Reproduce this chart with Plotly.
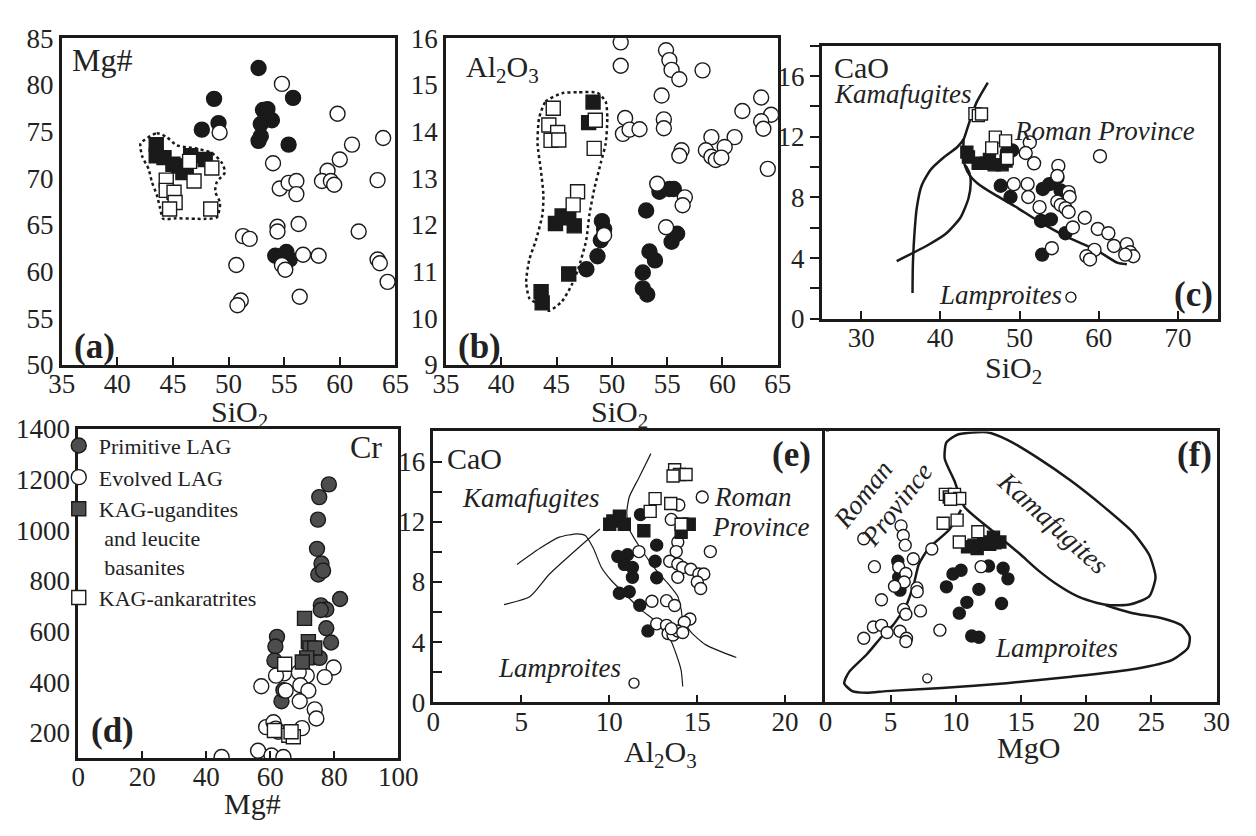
import plotly.graph_objects as go

W, H = 1256, 836
FONT = "Liberation Serif"
INK = "#1a1a1a"
TXT = "#222222"
GREY = "#4d4d4d"

# ---------------- Panel (a): SiO2 vs Mg# ----------------
A_prim_x = [52.7, 48.7, 55.8, 47.6, 49.1, 53.1, 53.5, 53.9, 52.9, 52.9, 52.7, 55.4, 54.2, 55.2, 55.5, 54.7]
A_prim_y = [81.8, 78.5, 78.6, 75.2, 75.9, 77.3, 77.4, 76.2, 75.8, 74.5, 74.0, 73.6, 61.7, 62.1, 61.3, 61.5]
A_evol_x = [54.8, 59.8, 49.2, 63.9, 61.1, 60.0, 54.0, 58.9, 58.4, 59.2, 59.5, 63.4, 54.6, 55.4, 56.1, 56.1,
            56.3, 54.4, 54.4, 51.3, 51.9, 61.7, 50.7, 56.7, 58.1, 54.8, 55.1, 63.4, 63.6, 64.3, 56.4, 51.1, 50.8]
A_evol_y = [80.1, 76.9, 74.9, 74.3, 73.6, 72.0, 71.6, 70.8, 69.7, 69.7, 69.3, 69.8, 68.9, 69.5, 69.7, 68.3,
            65.1, 64.8, 64.3, 63.8, 63.5, 64.3, 60.7, 61.8, 61.7, 60.7, 60.2, 61.3, 60.9, 58.9, 57.3, 56.9, 56.4]
A_ug_x = [43.5, 43.5, 45.0, 45.9, 46.6, 47.9, 45.5, 44.2, 46.2]
A_ug_y = [73.6, 72.4, 71.5, 70.6, 72.4, 72.0, 71.3, 72.2, 71.0]
A_ank_x = [46.5, 48.5, 44.4, 44.4, 45.1, 45.2, 44.7, 46.9, 48.4]
A_ank_y = [71.8, 71.1, 69.8, 68.7, 68.5, 67.4, 66.7, 69.7, 66.7]
A_field_x = [42.09, 43.55, 44.43, 45.30, 46.18, 47.05, 48.51, 49.39, 49.68, 48.95, 48.80, 49.24, 48.95,
             47.93, 47.05, 45.30, 44.13, 43.84, 43.55, 43.11, 42.82, 42.24, 42.09]
A_field_y = [73.72, 74.82, 74.41, 73.55, 73.31, 73.21, 72.69, 71.66, 70.63, 69.60, 68.57, 67.36, 65.82,
             65.65, 65.65, 65.71, 65.65, 66.85, 68.22, 69.60, 70.97, 72.35, 73.72]

# ---------------- Panel (b): SiO2 vs Al2O3 ----------------
B_prim_x = [49.1, 49.3, 49.0, 48.7, 47.7, 53.1, 54.3, 55.2, 55.6, 55.9, 55.4, 53.4, 53.9, 52.8, 52.8, 53.2]
B_prim_y = [12.08, 11.91, 11.67, 11.33, 11.05, 12.31, 12.71, 12.77, 12.77, 11.81, 11.64, 11.43, 11.24, 10.98, 10.64, 10.51]
B_evol_x = [50.8, 50.8, 54.9, 55.2, 55.4, 56.1, 58.2, 54.5, 54.7, 54.7, 51.2, 51.0, 51.6, 52.5, 63.5, 61.8, 64.4,
            63.5, 63.7, 61.1, 59.0, 60.2, 58.5, 59.0, 59.4, 59.9, 56.3, 56.1, 64.1, 54.1, 56.6, 56.4, 54.9, 49.3]
B_evol_y = [15.91, 15.41, 15.74, 15.53, 15.32, 15.12, 15.31, 14.77, 14.26, 14.07, 14.29, 13.95, 14.04, 14.05, 14.73,
            14.44, 14.36, 14.22, 14.06, 13.88, 13.88, 13.67, 13.60, 13.46, 13.39, 13.44, 13.60, 13.48, 13.20, 12.88,
            12.59, 12.42, 11.95, 11.78]
B_ug_x = [48.3, 47.9, 44.9, 45.5, 46.6, 46.1, 43.6, 43.7, 46.1]
B_ug_y = [14.63, 14.19, 12.03, 12.19, 11.98, 10.95, 10.57, 10.33, 12.15]
B_ank_x = [44.7, 44.3, 45.1, 44.5, 45.2, 48.5, 48.4, 46.9, 46.5]
B_ank_y = [14.50, 14.14, 13.98, 13.81, 13.82, 14.24, 13.64, 12.71, 12.43]
B_field_x = [43.42, 44.01, 45.48, 46.95, 48.71, 49.44, 49.59, 49.44, 49.0, 48.41, 47.97, 47.68, 46.95, 46.36,
             45.48, 44.30, 43.42, 42.54, 42.25, 42.54, 43.13, 43.72, 43.81, 43.57, 43.28, 43.42]
B_field_y = [14.29, 14.64, 14.82, 14.84, 14.83, 14.64, 14.29, 13.74, 13.33, 12.77, 12.22, 11.67, 11.05, 10.71,
             10.36, 10.16, 10.29, 10.43, 10.78, 11.26, 11.67, 12.22, 12.64, 13.19, 13.74, 14.29]

# ---------------- Panel (c): SiO2 vs CaO ----------------
C_prim_x = [49.06, 48.4, 47.63, 48.86, 52.94, 53.76, 54.78, 55.18, 52.73, 53.96, 55.8, 52.86]
C_prim_y = [11.10, 11.0, 8.77, 8.03, 8.56, 8.88, 9.30, 8.46, 6.45, 6.55, 5.64, 4.23]
C_evol_x = [51.3, 50.78, 51.84, 49.27, 51.02, 51.1, 52.53, 54.9, 54.78, 56.2, 56.33, 54.78, 55.2, 55.8, 56.2,
            56.73, 58.24, 59.88, 61.22, 61.92, 63.55, 63.96, 64.37, 63.35, 59.47, 58.45, 58.9, 54.08, 60.16]
C_evol_y = [11.63, 10.93, 10.25, 8.88, 8.88, 8.03, 7.36, 10.08, 9.41, 8.35, 8.03, 7.72, 7.5, 7.29, 7.04,
            6.02, 6.66, 5.92, 5.64, 4.80, 4.92, 4.38, 4.12, 4.23, 4.54, 4.12, 3.91, 4.65, 10.72]
C_small_x = [56.49]
C_small_y = [1.42]
C_ug_x = [43.55, 44.78, 45.8, 46.8, 47.8, 43.35, 46.2, 48.3]
C_ug_y = [10.67, 10.25, 10.25, 10.15, 10.15, 10.99, 10.5, 10.4]
C_ank_x = [44.37, 44.8, 45.2, 46.94, 48.24, 46.49, 48.45]
C_ank_y = [13.53, 13.4, 13.5, 11.98, 11.73, 11.27, 10.57]
C_lineA_x = [36.49, 36.53, 36.73, 37.02, 37.63, 38.78, 40.49, 42.12, 42.94, 43.55, 44.57, 46.0]
C_lineA_y = [1.69, 3.49, 5.60, 7.29, 8.77, 9.83, 10.67, 11.31, 11.84, 12.79, 14.27, 15.58]
C_lineB_x = [34.49, 38.45, 40.69, 42.53, 43.55, 43.84, 43.67, 43.2]
C_lineB_y = [3.80, 4.86, 5.60, 6.66, 7.93, 8.98, 9.62, 10.1]
C_lineC_x = [42.94, 42.9, 43.1, 43.8, 45.0, 46.5, 49.47, 52.33, 56.0, 59.67, 62.33, 63.55]
C_lineC_y = [11.84, 10.9, 10.1, 9.4, 8.8, 8.3, 7.40, 6.45, 5.39, 4.54, 3.70, 3.59]

# ---------------- Panel (d): Mg# vs Cr ----------------
D_prim_x = [78.3, 75.3, 74.9, 74.6, 76.0, 75.0, 76.5, 81.8, 75.8, 77.5, 75.8, 77.5, 79.0, 62.1, 61.6, 61.3, 63.5, 64.1, 74.4, 75.4]
D_prim_y = [1180, 1130, 1041, 926, 868, 825, 840, 728, 703, 687, 685, 613, 557, 579, 541, 486, 325, 369, 499, 496]
D_evol_x = [79.8, 77.0, 71.4, 68.9, 64.3, 61.8, 57.2, 64.8, 69.4, 71.9, 69.2, 73.9, 74.4, 58.7, 61.0, 61.7, 62.5,
            69.9, 56.2, 60.4, 64.1, 44.8]
D_evol_y = [458, 420, 426, 439, 435, 426, 384, 367, 388, 367, 325, 293, 257, 223, 242, 217, 205, 219, 130, 111, 105, 105]
D_ug_x = [70.7, 71.9, 72.4, 73.9, 71.4, 70.0]
D_ug_y = [652, 560, 535, 535, 496, 480]
D_ank_x = [61.3, 65.8, 67.2, 66.5, 64.5]
D_ank_y = [210, 191, 185, 205, 471]

# ---------------- Panel (e): Al2O3 vs CaO ----------------
E_prim_x = [11.78, 12.7, 10.49, 11.04, 10.86, 11.32, 11.32, 12.61, 12.7, 10.58, 11.14, 11.74, 12.2]
E_prim_y = [12.48, 10.45, 9.70, 9.81, 9.17, 8.96, 8.32, 9.38, 8.28, 7.25, 7.36, 6.46, 4.75]
E_evol_x = [13.96, 15.29, 13.53, 13.9, 13.81, 11.69, 15.75, 13.44, 13.9, 14.18, 14.64, 13.9, 15.1, 15.38, 15.01,
            15.2, 12.43, 13.26, 13.72, 14.59, 14.27, 12.7, 13.26, 13.35, 13.63, 13.9, 14.18, 13.53]
E_evol_y = [13.12, 13.65, 12.16, 10.66, 10.02, 10.02, 10.02, 9.38, 9.2, 8.96, 8.85, 8.32, 8.53, 8.53, 8.0,
            7.57, 6.72, 6.76, 6.44, 5.54, 5.33, 5.22, 5.12, 4.58, 4.48, 4.74, 4.65, 4.9]
E_small_x = [11.41]
E_small_y = [1.28]
E_ug_x = [10.21, 10.58, 10.86, 10.03, 11.97, 14.18, 14.55, 14.09]
E_ug_y = [12.05, 12.37, 11.84, 11.84, 11.41, 11.84, 11.84, 11.3]
E_ank_x = [13.72, 14.0, 14.37, 13.63, 12.61, 12.33, 13.5, 14.09]
E_ank_y = [15.46, 15.14, 15.14, 15.04, 13.54, 12.69, 13.22, 11.84]
E_line1_x = [12.37, 11.69, 11.14, 11.0, 11.14, 11.78, 12.7, 13.35, 13.9, 14.09, 14.18, 14.64, 15.47, 17.23]
E_line1_y = [16.53, 14.93, 13.65, 12.58, 11.52, 10.24, 8.74, 7.89, 7.04, 6.18, 5.54, 4.69, 3.84, 2.98]
E_line2_x = [4.76, 6.06, 7.16, 8.18, 8.64, 9.1, 9.56, 10.12, 10.86, 11.78, 12.7, 13.44, 13.81, 14.09, 14.18]
E_line2_y = [9.17, 10.24, 10.98, 11.2, 11.09, 10.24, 8.96, 8.1, 7.25, 6.18, 5.33, 4.26, 3.2, 2.13, 1.06]
E_line3_x = [4.02, 5.5, 6.61, 9.47]
E_line3_y = [6.50, 7.04, 8.53, 11.52]

# ---------------- Panel (f): MgO vs CaO ----------------
F_prim_x = [5.55, 5.62, 5.72, 9.78, 10.4, 9.28, 11.77, 10.85, 10.27, 12.51, 13.63, 14.0, 13.51, 11.22, 11.77]
F_prim_y = [9.38, 8.32, 7.46, 8.53, 8.78, 7.68, 7.51, 6.65, 5.93, 9.06, 8.91, 8.21, 6.57, 4.41, 4.33]
F_evol_x = [5.8, 5.97, 6.12, 2.94, 8.16, 6.74, 3.76, 5.62, 6.17, 6.04, 5.3, 7.02, 7.04, 4.3, 6.0, 7.29, 6.17,
            3.68, 4.3, 2.94, 4.73, 5.72, 6.22, 6.17, 8.78, 11.94]
F_evol_y = [11.73, 11.09, 10.45, 10.87, 10.19, 9.55, 9.02, 8.99, 8.57, 8.0, 7.72, 7.61, 7.36, 6.82, 6.18, 6.08, 5.86,
            5.01, 5.12, 4.26, 4.65, 4.73, 4.26, 4.05, 4.80, 9.02]
F_small_x = [7.81]
F_small_y = [1.6]
F_ug_x = [10.9, 11.64, 12.14, 12.89, 13.38, 12.6, 11.4, 13.0]
F_ug_y = [10.34, 10.23, 10.66, 10.98, 10.66, 10.5, 10.45, 10.6]
F_ank_x = [9.2, 9.5, 9.9, 10.3, 9.6, 9.03, 10.1, 10.27, 11.69]
F_ank_y = [13.82, 13.65, 13.82, 13.55, 13.5, 11.9, 12.11, 10.66, 11.34]
F_kama_x = [9.28, 10.15, 12.39, 13.88, 16.37, 18.86, 21.34, 23.58, 24.83, 25.32, 24.83, 23.33, 21.84, 20.85,
            19.35, 17.86, 16.37, 14.88, 12.89, 10.65, 9.9, 9.15, 9.28]
F_kama_y = [17.27, 17.80, 17.95, 17.48, 16.20, 14.71, 13.01, 11.30, 9.81, 8.32, 7.04, 6.50, 6.46, 6.61,
            7.04, 7.78, 8.74, 9.89, 11.34, 13.01, 14.71, 16.2, 17.27]
F_lamp_x = [10.4, 9.53, 7.91, 7.16, 6.79, 6.17, 5.17, 4.43, 3.18, 1.82, 1.44, 2.06, 3.18, 4.68, 8.91, 13.88,
            18.86, 23.83, 26.57, 27.81, 27.94, 27.31, 25.82, 23.58, 22.09, 21.5]
F_lamp_y = [12.79, 11.51, 10.23, 9.17, 7.89, 6.40, 5.12, 4.48, 3.20, 2.03, 1.28, 0.75, 0.64, 0.75, 0.96, 1.28,
            1.71, 2.24, 2.81, 3.62, 4.37, 5.12, 5.59, 5.93, 6.29, 6.45]

# ---------------- figure ----------------
fig = go.Figure()


def markers(xs, ys, ax, kind, size, grey=False, name=None, show=False):
    fill = {"prim": INK, "ug": INK, "evol": "white", "ank": "white"}[kind]
    if grey and kind in ("prim", "ug"):
        fill = GREY
    sym = "circle" if kind in ("prim", "evol") else "square"
    fig.add_trace(go.Scatter(
        x=xs, y=ys, mode="markers", xaxis="x" + ax, yaxis="y" + ax,
        marker=dict(symbol=sym, size=size, color=fill, line=dict(color=INK, width=1.4)),
        name=name, showlegend=show, hoverinfo="skip"))


def curve(xs, ys, ax, width=2.5, dash="solid"):
    fig.add_trace(go.Scatter(
        x=xs, y=ys, mode="lines", xaxis="x" + ax, yaxis="y" + ax,
        line=dict(color=INK, width=width, dash=dash, shape="spline", smoothing=0.6),
        showlegend=False, hoverinfo="skip"))


# (d) first so the legend follows its order
markers(D_prim_x, D_prim_y, "4", "prim", 15, grey=True, name="Primitive LAG", show=True)
markers(D_evol_x, D_evol_y, "4", "evol", 15, name="Evolved LAG", show=True)
markers(D_ug_x, D_ug_y, "4", "ug", 14, grey=True,
        name="KAG-ugandites<br>\u00a0and leucite<br>\u00a0basanites", show=True)
markers(D_ank_x, D_ank_y, "4", "ank", 14, name="KAG-ankaratrites", show=True)

# (a)
curve(A_field_x, A_field_y, "", width=2.5, dash="dot")
markers(A_prim_x, A_prim_y, "", "prim", 15)
markers(A_evol_x, A_evol_y, "", "evol", 15)
markers(A_ug_x, A_ug_y, "", "ug", 14)
markers(A_ank_x, A_ank_y, "", "ank", 14)
# (b)
curve(B_field_x, B_field_y, "2", width=2.5, dash="dot")
markers(B_prim_x, B_prim_y, "2", "prim", 15)
markers(B_evol_x, B_evol_y, "2", "evol", 15)
markers(B_ug_x, B_ug_y, "2", "ug", 14)
markers(B_ank_x, B_ank_y, "2", "ank", 14)
# (c)
curve(C_lineA_x, C_lineA_y, "3")
curve(C_lineB_x, C_lineB_y, "3")
curve(C_lineC_x, C_lineC_y, "3")
markers(C_prim_x, C_prim_y, "3", "prim", 13)
markers(C_evol_x, C_evol_y, "3", "evol", 13)
markers(C_small_x, C_small_y, "3", "evol", 10)
markers(C_ug_x, C_ug_y, "3", "ug", 12)
markers(C_ank_x, C_ank_y, "3", "ank", 12)
# (e)
curve(E_line1_x, E_line1_y, "5", width=1.2)
curve(E_line2_x, E_line2_y, "5", width=1.2)
curve(E_line3_x, E_line3_y, "5", width=1.2)
markers(E_prim_x, E_prim_y, "5", "prim", 12)
markers(E_evol_x, E_evol_y, "5", "evol", 12)
markers(E_small_x, E_small_y, "5", "evol", 10)
markers(E_ug_x, E_ug_y, "5", "ug", 12)
markers(E_ank_x, E_ank_y, "5", "ank", 12)
# (f)
curve(F_kama_x, F_kama_y, "6")
curve(F_lamp_x, F_lamp_y, "6")
markers(F_prim_x, F_prim_y, "6", "prim", 12)
markers(F_evol_x, F_evol_y, "6", "evol", 12)
markers(F_small_x, F_small_y, "6", "evol", 9)
markers(F_ug_x, F_ug_y, "6", "ug", 12)
markers(F_ank_x, F_ank_y, "6", "ank", 12)


def px(x):
    return x / W


def py(y):
    return 1 - y / H


TICKFONT = dict(family=FONT, size=27, color=TXT)


def base(ticks, ticklen):
    return dict(ticks=ticks, ticklen=ticklen, tickwidth=1.5, tickcolor=INK, showline=True, mirror=True,
                linecolor=INK, linewidth=2.5, showgrid=False, zeroline=False, tickfont=TICKFONT,
                fixedrange=True)


def xax(x0, x1, rng, vals, anchor, ticks="inside"):
    d = base(ticks, 8)
    d.update(domain=[px(x0), px(x1)], range=rng, tickvals=vals, anchor=anchor, ticklabelstandoff=-7)
    return d


def yax(y0, y1, rng, vals, anchor, ticks="", minor=None, labels=True):
    d = base(ticks, 9)
    d.update(domain=[py(y1), py(y0)], range=rng, tickvals=vals, anchor=anchor, showticklabels=labels)
    if minor is not None:
        d["minor"] = minor
    return d


ca_labels = [0, 4, 8, 12, 16]

layout = dict(
    width=W, height=H, margin=dict(l=0, r=0, t=0, b=0),
    paper_bgcolor="white", plot_bgcolor="white",
    font=dict(family=FONT, color=TXT),
    xaxis=xax(49, 392, [35, 65], [35, 40, 45, 50, 55, 60, 65], "y"),
    yaxis=yax(24, 363, [50, 85], [50, 55, 60, 65, 70, 75, 80, 85], "x"),
    xaxis2=xax(444, 785, [35, 65], [35, 40, 45, 50, 55, 60, 65], "y2"),
    yaxis2=yax(24, 363, [9, 16], [9, 10, 11, 12, 13, 14, 15, 16], "x2"),
    xaxis3=xax(830, 1237, [25, 75], [30, 40, 50, 60, 70], "y3"),
    yaxis3=yax(32, 315, [0, 18], ca_labels, "x3", ticks="outside",
               minor=dict(dtick=2, tick0=0, ticks="outside", ticklen=9, tickwidth=1.5, tickcolor=INK)),
    xaxis4=xax(66, 395, [0, 100], [0, 20, 40, 60, 80, 100], "y4"),
    yaxis4=yax(429, 771, [100, 1400], [200, 400, 600, 800, 1000, 1200, 1400], "x4"),
    xaxis5=xax(431, 835, [0, 22.35], [0, 5, 10, 15, 20], "y5"),
    yaxis5=yax(432, 713, [0, 18], ca_labels, "x5", ticks="inside",
               minor=dict(dtick=2, tick0=0, ticks="inside", ticklen=9, tickwidth=1.5, tickcolor=INK)),
    xaxis6=xax(834, 1236, [0, 30], [0, 5, 10, 15, 20, 25, 30], "y6"),
    yaxis6=yax(432, 713, [0, 18], ca_labels, "x6", labels=False),
    legend=dict(x=px(46), y=py(425), xanchor="left", yanchor="top",
                font=dict(family=FONT, size=22, color=TXT), bgcolor="rgba(0,0,0,0)",
                tracegroupgap=0, itemwidth=30, valign="top", traceorder="normal"),
    showlegend=True,
)
fig.update_layout(**layout)

notes = [
    # text, x, y, size, style, xanchor, angle
    ("Mg#", 58, 47, 32, "n", "left", 0),
    ("<b>(a)</b>", 83, 344, 35, "n", "center", 0),
    ("SiO<sub>2</sub>", 232, 414, 30, "n", "center", 0),
    ("Al<sub>2</sub>O<sub>3</sub>", 463, 56, 30, "n", "left", 0),
    ("<b>(b)</b>", 478, 344, 35, "n", "center", 0),
    ("SiO<sub>2</sub>", 622, 414, 30, "n", "center", 0),
    ("CaO", 841, 54, 30, "n", "left", 0),
    ("Kamafugites", 841, 82, 27, "i", "left", 0),
    ("Roman Province", 1026, 120, 27, "i", "left", 0),
    ("Lamproites", 949, 290, 27, "i", "left", 0),
    ("<b>(c)</b>", 1212, 290, 35, "n", "center", 0),
    ("SiO<sub>2</sub>", 1027, 368, 30, "n", "center", 0),
    ("Cr", 362, 448, 32, "n", "center", 0),
    ("<b>(d)</b>", 101, 742, 35, "n", "center", 0),
    ("Mg#", 245, 818, 30, "n", "center", 0),
    ("CaO", 443, 460, 30, "n", "left", 0),
    ("Kamafugites", 458, 501, 27, "i", "left", 0),
    ("Roman", 717, 500, 27, "i", "left", 0),
    ("Province", 715, 531, 27, "i", "left", 0),
    ("Lamproites", 495, 677, 27, "i", "left", 0),
    ("<b>(e)</b>", 799, 456, 35, "n", "center", 0),
    ("Al<sub>2</sub>O<sub>3</sub>", 665, 766, 30, "n", "center", 0),
    ("<b>(f)</b>", 1213, 456, 35, "n", "center", 0),
    ("Roman", 873, 497, 27, "i", "center", -52),
    ("Province", 907, 508, 27, "i", "center", -52),
    ("Kamafugites", 1068, 527, 27, "i", "center", 42),
    ("Lamproites", 1006, 657, 27, "i", "left", 0),
    ("MgO", 1043, 760, 30, "n", "center", 0),
]
for text, x, y, size, style, xa, ang in notes:
    if style == "i":
        text = "<i>" + text + "</i>"
    fig.add_annotation(text=text, x=px(x), y=py(y), xref="paper", yref="paper",
                       xanchor=xa, yanchor="middle", showarrow=False, textangle=ang,
                       font=dict(family=FONT, size=size, color=TXT))

fig.write_html("out.html")
